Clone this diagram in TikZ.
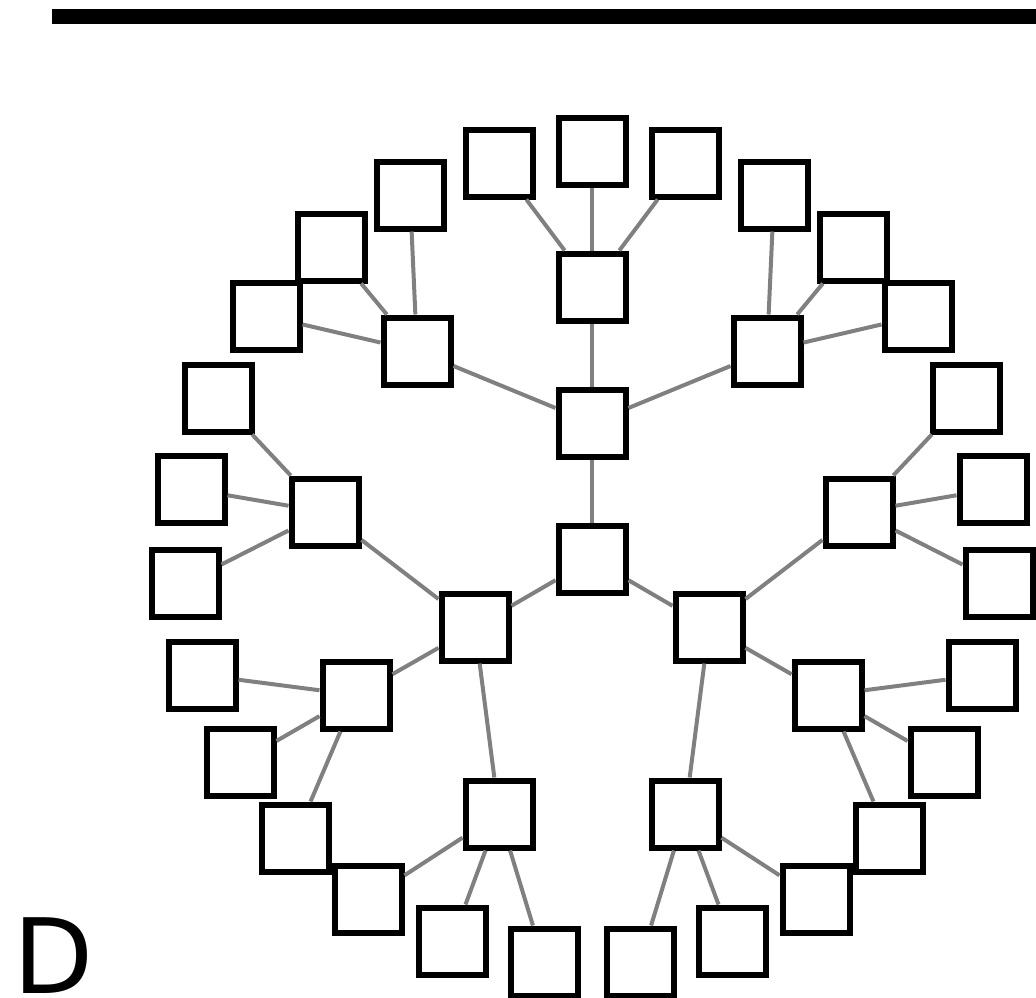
\documentclass[tikz,border=0pt]{standalone}
\usepackage{fontspec}
\setsansfont{DejaVu Sans}
\definecolor{LinkGray}{HTML}{808080}

\begin{document}
\begin{tikzpicture}[
    x=1pt, y=-1pt,
    box/.style={
      draw=black,
      fill=white,
      line width=6pt,
      minimum size=67pt,
      inner sep=0pt
    },
    link/.style={draw=LinkGray, line width=4pt}
  ]
  \useasboundingbox (0,0) rectangle (1036,998);
  \fill[black] (52,9) rectangle (1036,24);

  % root and first ring
  \foreach \n/\x/\y in {r/592/559, a/592/423, b/475/627, c/709/627}
    \node[box] (\n) at (\x,\y) {};

  % second ring
  \foreach \n/\x/\y in {a1/417/351, a2/592/287, a3/767/351,
                        b1/325/512, b2/356/695, b3/499/814,
                        c1/859/512, c2/828/695, c3/685/814}
    \node[box] (\n) at (\x,\y) {};

  % leaves
  \foreach \n/\x/\y in {a11/266/316, a12/331/247, a13/410/195,
                        a21/499/163, a22/592/151, a23/685/163,
                        a31/774/195, a32/853/247, a33/918/316,
                        b11/218/398, b12/191/489, b13/185/583,
                        b21/202/675, b22/240/762, b23/295/838,
                        b31/368/899, b32/452/941, b33/544/962,
                        c11/966/398, c12/993/489, c13/999/583,
                        c21/982/675, c22/944/762, c23/889/838,
                        c31/816/899, c32/732/941, c33/640/962}
    \node[box] (\n) at (\x,\y) {};

  \foreach \p in {a,b,c} {
    \draw[link] (r) -- (\p);
    \foreach \k in {1,2,3} {
      \draw[link] (\p) -- (\p\k);
      \foreach \m in {1,2,3}
        \draw[link] (\p\k) -- (\p\k\m);
    }
  }

  \node[anchor=base west, inner sep=0pt,
        font=\sffamily\fontsize{104}{104}\selectfont] (panel) at (13,993) {D};
\end{tikzpicture}
\end{document}
